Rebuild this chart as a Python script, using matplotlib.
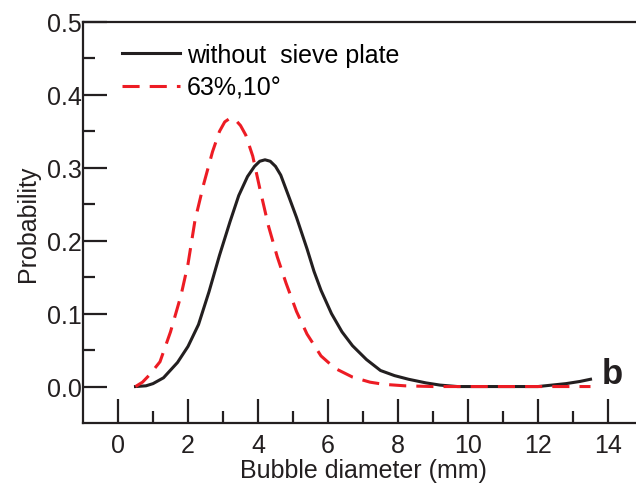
import numpy as np
import matplotlib
matplotlib.use('Agg')
import matplotlib.pyplot as plt
from matplotlib.ticker import FixedLocator, FormatStrFormatter

# values
x_plain = [0.5, 0.8, 1.0, 1.3, 1.7, 2.0, 2.3, 2.6, 2.9, 3.2, 3.45, 3.7, 3.9, 4.05,
           4.2, 4.35, 4.5, 4.65, 4.9, 5.1, 5.4, 5.6, 5.8, 6.1, 6.4, 6.7, 7.1, 7.5,
           7.9, 8.3, 8.8, 9.2, 9.7, 10.5, 11.5, 12.0, 12.4, 12.8, 13.2, 13.5]
y_plain = [0.0, 0.001, 0.004, 0.012, 0.033, 0.055, 0.085, 0.13, 0.18, 0.226, 0.262,
           0.288, 0.302, 0.309, 0.311, 0.309, 0.302, 0.29, 0.258, 0.232, 0.189, 0.158,
           0.132, 0.100, 0.075, 0.056, 0.037, 0.022, 0.015, 0.010, 0.005, 0.002, 0.0,
           0.0, 0.0, 0.0, 0.002, 0.004, 0.007, 0.010]

x_plate = [0.5, 0.7, 0.9, 1.2, 1.5, 1.8, 2.0, 2.2, 2.45, 2.7, 2.9, 3.05, 3.2, 3.35,
           3.5, 3.65, 3.85, 4.05, 4.3, 4.55, 4.8, 5.1, 5.4, 5.8, 6.2, 6.7, 7.2, 7.6,
           8.2, 9.0, 10.0, 11.0, 12.0, 13.5]
y_plate = [0.0, 0.006, 0.016, 0.034, 0.075, 0.125, 0.168, 0.228, 0.278, 0.322, 0.350,
           0.363, 0.368, 0.366, 0.358, 0.345, 0.316, 0.272, 0.22, 0.178, 0.142, 0.103,
           0.072, 0.042, 0.025, 0.013, 0.006, 0.003, 0.001, 0.0, 0.0, 0.0, 0.0, 0.0]

labels = ['without  sieve plate', '63%,10°']
x_major = [0, 2, 4, 6, 8, 10, 12, 14]
x_minor = [1, 3, 5, 7, 9, 11, 13]
y_major = [0.0, 0.1, 0.2, 0.3, 0.4, 0.5]
y_minor = [0.05, 0.15, 0.25, 0.35, 0.45]

plt.rcParams['font.family'] = ['Liberation Sans', 'DejaVu Sans']

black = '#231f20'
red = '#ed1c24'
fs = 18

fig = plt.figure(figsize=(6.36, 4.85), dpi=100)
ax = fig.add_axes([83 / 636, 61 / 485, 560 / 636, 401 / 485])

ax.plot(x_plain, y_plain, color=black, lw=2.2, label=labels[0])
ax.plot(x_plate, y_plate, color=red, lw=2.2, dashes=(5.6, 3.3), label=labels[1])

ax.set_xlim(-1, 15)
ax.set_ylim(-0.05, 0.5)

ax.xaxis.set_major_locator(FixedLocator(x_major))
ax.xaxis.set_minor_locator(FixedLocator(x_minor))
ax.yaxis.set_major_locator(FixedLocator(y_major))
ax.yaxis.set_minor_locator(FixedLocator(y_minor))
ax.yaxis.set_major_formatter(FormatStrFormatter('%.1f'))

ax.spines['right'].set_visible(False)
for s in ['left', 'top', 'bottom']:
    ax.spines[s].set_linewidth(1.6)
    ax.spines[s].set_color(black)

ax.tick_params(which='major', direction='in', length=17, width=1.6, color=black,
               labelsize=fs, labelcolor=black)
ax.tick_params(which='minor', direction='in', length=8.5, width=1.6, color=black)
ax.tick_params(axis='x', which='major', pad=7)
ax.tick_params(axis='y', which='major', pad=1)
ax.tick_params(top=False, right=False, which='both')

ax.set_xlabel('Bubble diameter (mm)', fontsize=fs, color=black, labelpad=1)
ax.set_ylabel('Probability', fontsize=fs, color=black, labelpad=5)

ax.legend(loc='upper left', bbox_to_anchor=(0.07, 0.948), frameon=False, fontsize=fs,
          handlelength=2.3, handletextpad=0.3, labelspacing=0.35, borderaxespad=0,
          borderpad=0)

ax.text(13.83, 0.018, 'b', fontsize=25, fontweight='bold', color=black,
        ha='left', va='center')

fig.savefig('out.png', dpi=100)
